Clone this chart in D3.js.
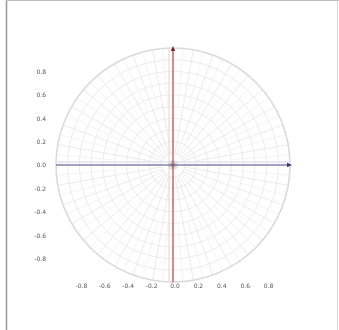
<!DOCTYPE html>
<html>
<head>
<meta charset="utf-8">
<script src="https://cdn.jsdelivr.net/npm/d3@7"></script>
<style>
  html, body { margin: 0; padding: 0; background: #fff; }
  svg { display: block; }
  .labels { filter: grayscale(1); }
  .tick text { font-family: "DejaVu Sans", sans-serif; font-size: 6px; fill: #555; }
</style>
</head>
<body>
<svg id="chart" width="339" height="330"></svg>
<script>
// Tick labels along the two axes
const xTicks = [-0.8, -0.6, -0.4, -0.2, 0.0, 0.2, 0.4, 0.6, 0.8];
const yTicks = [0.8, 0.6, 0.4, 0.2, 0.0, -0.2, -0.4, -0.6, -0.8];
// Concentric rings of the polar grid (unit circle, step 0.1)
const ringRadii = [0.1, 0.2, 0.3, 0.4, 0.5, 0.6, 0.7, 0.8, 0.9];
const outerRadius = 1.0;
// Spokes every 10 degrees
const spokeAngles = d3.range(0, 360, 10);
// Finer spokes in between, drawn on the outer half only
const fineSpokeAngles = d3.range(5, 360, 10);
// Coordinate axes: [x1, y1, x2, y2] in data units
const realAxis = [-1, 0, 1, 0];
const imagAxis = [0, -1, 0, 1];

const svg = d3.select("#chart");
const cx = 173, cy = 165, R = 117;

const x = d3.scaleLinear().domain([-1, 1]).range([cx - R, cx + R]);
const y = d3.scaleLinear().domain([-1, 1]).range([cy + R, cy - R]);
const r = d3.scaleLinear().domain([0, 1]).range([0, R]);
const fmt = v => d3.format(".1f")(v).replace("\u2212", "-");

// page frame
svg.append("line").attr("x1", 6.5).attr("y1", 0).attr("x2", 6.5).attr("y2", 330)
  .attr("stroke", "#999").attr("stroke-width", 1.5);
svg.append("line").attr("x1", 6).attr("y1", 0.5).attr("x2", 339).attr("y2", 0.5)
  .attr("stroke", "#bbb").attr("stroke-width", 1);
svg.append("line").attr("x1", 337.5).attr("y1", 0).attr("x2", 337.5).attr("y2", 330)
  .attr("stroke", "#d4d4d4").attr("stroke-width", 1);

const grid = svg.append("g").attr("transform", `translate(${cx},${cy})`);

// rings
grid.selectAll("circle.ring").data(ringRadii).join("circle")
  .attr("class", "ring")
  .attr("r", d => r(d))
  .attr("fill", "none").attr("stroke", "#e6e6e6").attr("stroke-width", 0.8);

// spokes
grid.selectAll("line.spoke").data(spokeAngles).join("line")
  .attr("class", "spoke")
  .attr("x1", d => r(0.1) * Math.cos(d * Math.PI / 180))
  .attr("y1", d => -r(0.1) * Math.sin(d * Math.PI / 180))
  .attr("x2", d => r(outerRadius) * Math.cos(d * Math.PI / 180))
  .attr("y2", d => -r(outerRadius) * Math.sin(d * Math.PI / 180))
  .attr("stroke", "#e6e6e6").attr("stroke-width", 0.8);

grid.selectAll("line.fine").data(fineSpokeAngles).join("line")
  .attr("class", "fine")
  .attr("x1", d => r(0.5) * Math.cos(d * Math.PI / 180))
  .attr("y1", d => -r(0.5) * Math.sin(d * Math.PI / 180))
  .attr("x2", d => r(outerRadius) * Math.cos(d * Math.PI / 180))
  .attr("y2", d => -r(outerRadius) * Math.sin(d * Math.PI / 180))
  .attr("stroke", "#eeeeee").attr("stroke-width", 0.7);

// outer boundary
grid.append("circle").attr("r", r(outerRadius))
  .attr("fill", "none").attr("stroke", "#dadada").attr("stroke-width", 1.6);

// soft tinted bands along the axes
svg.append("line")
  .attr("x1", x(imagAxis[0]) - 4).attr("y1", y(imagAxis[1]))
  .attr("x2", x(imagAxis[2]) - 4).attr("y2", y(imagAxis[3]))
  .attr("stroke", "#f6dcdc").attr("stroke-width", 1.5);
svg.append("line")
  .attr("x1", x(realAxis[0])).attr("y1", y(realAxis[1]) - 3)
  .attr("x2", x(realAxis[2])).attr("y2", y(realAxis[3]) - 3)
  .attr("stroke", "#e8e8f6").attr("stroke-width", 2);

// central hub
svg.append("circle").attr("cx", x(0)).attr("cy", y(0)).attr("r", 5)
  .attr("fill", "#bbb").attr("opacity", 0.45);
svg.append("circle").attr("cx", x(0)).attr("cy", y(0)).attr("r", 2.5)
  .attr("fill", "#888").attr("opacity", 0.55);

// real axis (blue) and imaginary axis (red)
svg.append("line")
  .attr("x1", x(realAxis[0])).attr("y1", y(realAxis[1]))
  .attr("x2", x(realAxis[2])).attr("y2", y(realAxis[3]))
  .attr("stroke", "#4a4a8c").attr("stroke-width", 1.2);
svg.append("line")
  .attr("x1", x(imagAxis[0])).attr("y1", y(imagAxis[1]))
  .attr("x2", x(imagAxis[2])).attr("y2", y(imagAxis[3]))
  .attr("stroke", "#b04a4a").attr("stroke-width", 1.2);

// axis end markers
svg.append("path")
  .attr("d", `M${x(1) + 2},${y(0)} l-5,-2.2 l0,4.4 z`)
  .attr("fill", "#3a3a70");
svg.append("path")
  .attr("d", `M${x(0)},${y(1) - 2} l-2.2,5 l4.4,0 z`)
  .attr("fill", "#6a2a2a");

// tick labels
const yAxis = d3.axisLeft(y).tickValues(yTicks).tickSize(0).tickPadding(0)
  .tickFormat(fmt);
svg.append("g").attr("class", "labels").attr("transform", "translate(46,0)").call(yAxis)
  .call(g => g.select(".domain").remove());

const xAxis = d3.axisBottom(x).tickValues(xTicks).tickSize(0).tickPadding(0)
  .tickFormat(fmt);
svg.append("g").attr("class", "labels").attr("transform", "translate(1.5,284)").call(xAxis)
  .call(g => g.select(".domain").remove());
</script>
</body>
</html>
